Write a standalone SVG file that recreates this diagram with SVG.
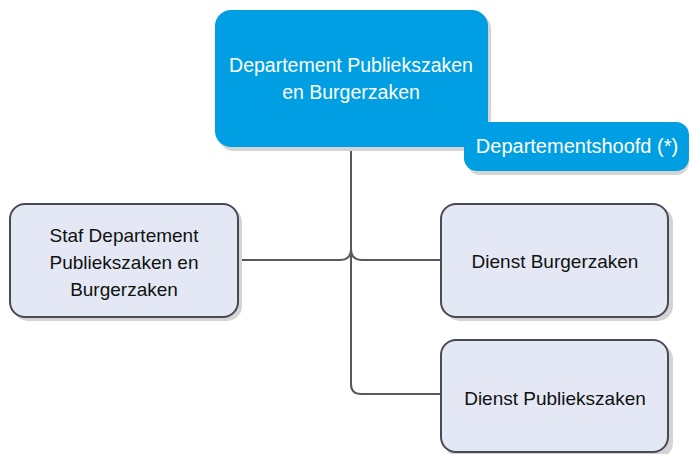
<svg xmlns="http://www.w3.org/2000/svg" width="691" height="454" viewBox="0 0 691 454">
<style>
.shadow{fill:#d4d4d4}
.head{fill:#009fe3}
.unit{fill:#e3e8f4;stroke:#4a4a52;stroke-width:2}
.conn{fill:none;stroke:#58585e;stroke-width:2}
text{font-family:"Liberation Sans",Arial,sans-serif;font-size:19px;text-anchor:middle}
.w{fill:#ffffff}
.d{fill:#111111}
.big{font-size:19.5px}
.badge{font-size:20px}
</style>
<rect width="691" height="454" fill="#ffffff"/>
<g id="connectors">
<path class="conn" d="M351 147 V384 Q351 394 361 394 H441"/>
<path class="conn" d="M238 260 H340 Q351 260 351 249"/>
<path class="conn" d="M351 249 Q351 260 362 260 H441"/>
</g>
<g id="node-head">
<rect class="shadow" x="218" y="13" width="273" height="138" rx="16"/>
<rect class="head" x="215" y="10" width="273" height="137" rx="16"/>
<text class="w big" x="351" y="72">Departement Publiekszaken</text>
<text class="w big" x="351" y="99">en Burgerzaken</text>
</g>
<g id="node-badge">
<rect class="shadow" x="467" y="125" width="222" height="50" rx="13"/>
<rect class="head" x="464" y="122" width="225" height="49" rx="13"/>
<text class="w badge" x="577" y="153">Departementshoofd (*)</text>
</g>
<g id="node-staf">
<rect class="shadow" x="13" y="207" width="229" height="114" rx="15"/>
<rect class="unit" x="10" y="204" width="228" height="113" rx="15"/>
<text class="d" x="124" y="242">Staf Departement</text>
<text class="d" x="124" y="269">Publiekszaken en</text>
<text class="d" x="124" y="296">Burgerzaken</text>
</g>
<g id="node-burgerzaken">
<rect class="shadow" x="445" y="207" width="228" height="114" rx="15"/>
<rect class="unit" x="441" y="204" width="227" height="113" rx="15"/>
<text class="d" x="555" y="268">Dienst Burgerzaken</text>
</g>
<g id="node-publiekszaken">
<rect class="shadow" x="445" y="344" width="228" height="114" rx="15"/>
<rect class="unit" x="441" y="340" width="227" height="112" rx="15"/>
<text class="d" x="555" y="405">Dienst Publiekszaken</text>
</g>
</svg>
